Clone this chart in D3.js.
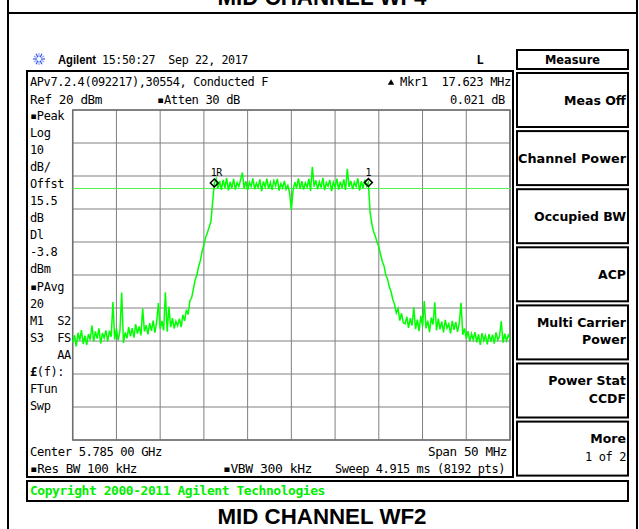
<!DOCTYPE html>
<html lang="en">
<head>
<meta charset="UTF-8">
<title>MID CHANNEL WF2</title>
<style>
  body, html { margin: 0; padding: 0; background: #fff; overflow: hidden; }
  svg text { font-family: "DejaVu Sans Mono", monospace; font-size: 12px; fill: #000; letter-spacing: -0.4px; }
  svg text.sans { font-family: "Liberation Sans", Arial, sans-serif; letter-spacing: 0; }
  svg text.key { font-family: "DejaVu Sans", sans-serif; font-weight: bold; font-size: 12.5px; letter-spacing: 0; }
</style>
</head>
<body>
<svg id="chart" width="639" height="529"></svg>
<script src="https://cdnjs.cloudflare.com/ajax/libs/d3/7.8.5/d3.min.js"></script>
<script>
// analyzer settings (offsets from 5.785 GHz centre, MHz)
const startOffset = -25, stopOffset = 25;
const freqGrid = [-25, -20, -15, -10, -5, 0, 5, 10, 15, 20, 25];
const levelGrid = [20, 10, 0, -10, -20, -30, -40, -50, -60, -70, -80];
const displayLine = -3.8;

// trace, dBm, evenly spaced across the span
const traceDbm = [
  -50.5, -48.2, -51.6, -47.5, -49.8, -46.7, -50.9, -48.4, -51.2, -47.9,
  -49.6, -45.3, -50.2, -47.1, -49.3, -46.2, -50.8, -47.6, -49.1, -46.8,
  -50.1, -46.9, -48.7, -38.2, -49.5, -46.3, -49.8, -47.0, -35.3, -50.6,
  -47.4, -49.2, -45.8, -48.6, -46.1, -49.0, -44.9, -47.8, -45.6, -48.3,
  -40.2, -47.1, -45.2, -48.0, -44.6, -46.9, -43.8, -47.5, -44.2, -38.5,
  -46.3, -43.9, -46.8, -35.2, -47.2, -39.6, -45.8, -43.1, -46.2, -44.0,
  -45.4, -43.2, -45.8, -42.1, -43.9, -40.5, -42.0, -37.8, -36.9, -34.2,
  -31.5, -30.0, -27.4, -25.6, -22.8, -21.0, -18.6, -17.2, -15.5, -13.8,
  -8.0, -2.1, -0.8, -3.9, -1.5, -4.2, -1.2, -3.6, -0.6, -4.4,
  -1.8, -3.7, -0.9, -4.1, -2.0, -3.2, -1.1, 1.0, -3.8, -1.6,
  -4.3, -1.9, -3.1, -0.7, -4.0, -2.2, -3.5, -1.0, -4.6, -1.7,
  -3.3, -0.8, -3.9, -2.0, -4.2, -1.4, -3.0, -0.9, -4.4, -2.3,
  -3.6, -1.5, -4.0, -2.8, -5.1, -10.3, -4.3, -1.9, -3.7, -0.7,
  -3.9, -1.6, -4.1, -2.1, -3.4, -0.9, -4.5, 2.8, -3.2, -1.3,
  -4.0, -1.8, -3.5, -0.6, -4.3, -2.0, -3.1, -1.2, -4.6, -1.9,
  -3.4, -0.8, -4.1, -1.7, -3.6, -1.0, -4.2, 2.2, -3.3, -1.5,
  -4.0, -1.9, -3.2, -0.7, -4.4, -1.6, -3.7, -1.1, -3.0, -2.0,
  -10.8, -14.5, -16.8, -18.2, -20.1, -21.4, -23.8, -25.9, -27.3, -30.1,
  -31.2, -33.6, -35.0, -37.4, -38.9, -41.5, -40.2, -43.8, -41.6, -44.5,
  -44.8, -42.6, -46.0, -43.1, -45.3, -39.8, -46.4, -43.5, -47.0, -42.4,
  -45.6, -37.9, -46.2, -43.8, -47.3, -42.9, -45.0, -38.3, -46.8, -43.2,
  -46.5, -44.1, -47.4, -43.6, -46.1, -44.8, -47.7, -43.9, -46.6, -44.3,
  -47.2, -44.6, -38.4, -48.1, -46.2, -49.3, -47.0, -50.1, -47.8, -49.6,
  -47.3, -50.4, -48.0, -51.2, -47.6, -49.9, -48.3, -51.0, -47.9, -50.2,
  -48.1, -50.8, -47.4, -49.7, -48.6, -44.0, -50.5, -47.8, -49.9, -48.2, -49.4
];

const markerNames = ["1R", "1"];
const markerOffsets = [-8.81, 8.81];
const markerLevels = [-2.1, -2.0];

const sideLabels = ["\u25AAPeak", "Log", "10", "dB/", "Offst", "15.5", "dB", "Dl", "-3.8", "dBm",
  "\u25AAPAvg", "20", "M1\u00A0\u00A0S2", "S3\u00A0\u00A0FS", "\u00A0\u00A0\u00A0\u00A0AA", "(f):", "FTun", "Swp"];

const softKeys = [["Meas Off"], ["Channel Power"], ["Occupied BW"], ["ACP"],
  ["Multi Carrier", "Power"], ["Power Stat", "CCDF"], ["More", "1 of 2"]];

const svg = d3.select("#chart");

function txt(x, y, s, o = {}) {
  const t = svg.append("text").attr("x", x).attr("y", y).text(s);
  if (o.anchor) t.attr("text-anchor", o.anchor);
  if (o.cls) t.attr("class", o.cls);
  if (o.w) t.attr("textLength", o.w).attr("lengthAdjust", "spacingAndGlyphs");
  if (o.fill) t.style("fill", o.fill);
  if (o.weight) t.style("font-weight", o.weight);
  if (o.size) t.style("font-size", o.size + "px");
  return t;
}

function box(x0, y0, x1, y1) {
  svg.append("rect").attr("x", x0).attr("y", y0)
    .attr("width", x1 - x0).attr("height", y1 - y0)
    .attr("fill", "none").attr("stroke", "#000").attr("stroke-width", 2);
}

// page frame + titles
box(8, -4, 637, 535);
svg.append("line").attr("x1", 8).attr("x2", 637).attr("y1", 13).attr("y2", 13)
  .attr("stroke", "#000").attr("stroke-width", 2);
txt(322, 5, "MID CHANNEL WF4", { cls: "sans", anchor: "middle", weight: "bold", size: 23, w: 209 });
txt(322, 524, "MID CHANNEL WF2", { cls: "sans", anchor: "middle", weight: "bold", size: 22, w: 209 });

// header line
const logo = svg.append("g").attr("transform", "translate(39,59)");
d3.range(12).forEach(k => {
  const a = k * Math.PI / 6;
  logo.append("line")
    .attr("x1", Math.cos(a) * 2).attr("y1", Math.sin(a) * 2)
    .attr("x2", Math.cos(a) * 6).attr("y2", Math.sin(a) * 6)
    .attr("stroke", k % 2 ? "#8fa6ff" : "#2f52e0").attr("stroke-width", 1.2);
});
txt(58, 64, "Agilent", { cls: "sans", weight: "bold", size: 12, w: 38 });
txt(102, 64, "15:50:27\u00A0\u00A0Sep 22, 2017", { w: 146 });
txt(480, 64, "L", { anchor: "middle", weight: "bold" });

// instrument screen
box(27, 71, 513, 477);
txt(30, 86, "APv7.2.4(092217),30554, Conducted F", { w: 238 });
txt(30, 104, "Ref 20 dBm", { w: 72 });
txt(157, 104, "\u25AAAtten 30 dB", { w: 83 });
svg.append("path").attr("d", d3.symbol(d3.symbolTriangle, 18)())
  .attr("transform", "translate(391,83)").attr("fill", "#000");
txt(511, 86, "Mkr1\u00A0\u00A017.623 MHz", { anchor: "end", w: 111 });
txt(505, 104, "0.021 dB", { anchor: "end", w: 55 });

sideLabels.forEach((s, i) => {
  const t = txt(30, 119.5 + i * 17.1, s);
  if (s === "(f):") t.text(null).call(tt => {
    tt.append("tspan").style("font-weight", "bold").text("\u00A3");
    tt.append("tspan").text("(f):");
  });
});

txt(30, 456, "Center 5.785 00 GHz", { w: 132 });
txt(507, 456, "Span 50 MHz", { anchor: "end", w: 79 });
txt(30, 473, "\u25AARes BW 100 kHz", { w: 107 });
txt(223, 473, "\u25AAVBW 300 kHz", { w: 89 });
txt(505, 473, "Sweep 4.915 ms (8192 pts)", { anchor: "end", w: 170 });

// status bar
box(27, 481, 628, 501);
txt(30, 495, "Copyright 2000-2011 Agilent Technologies", { weight: "bold", fill: "#00ee00", w: 295 });

// scales
const x = d3.scaleLinear().domain([startOffset, stopOffset]).range([72.7, 510]);
const y = d3.scaleLinear().domain([levelGrid[0], levelGrid[levelGrid.length - 1]]).range([110, 440]);

const grid = svg.append("g");
grid.selectAll("line.v").data(freqGrid).join("line").attr("class", "v")
  .attr("x1", d => x(d)).attr("x2", d => x(d)).attr("y1", y.range()[0]).attr("y2", y.range()[1])
  .attr("stroke", "#808080").attr("stroke-width", 1);
grid.selectAll("line.h").data(levelGrid).join("line").attr("class", "h")
  .attr("x1", x.range()[0]).attr("x2", x.range()[1]).attr("y1", d => y(d)).attr("y2", d => y(d))
  .attr("stroke", "#808080").attr("stroke-width", 1);
grid.append("rect").attr("x", x.range()[0]).attr("y", y.range()[0])
  .attr("width", x.range()[1] - x.range()[0]).attr("height", y.range()[1] - y.range()[0])
  .attr("fill", "none").attr("stroke", "#6e6e6e").attr("stroke-width", 1.5);

// display line
svg.append("line").attr("x1", x.range()[0]).attr("x2", x.range()[1] + 1)
  .attr("y1", y(displayLine)).attr("y2", y(displayLine))
  .attr("stroke", "#55f055").attr("stroke-width", 1);

// trace
const step = (stopOffset - startOffset) / (traceDbm.length - 1);
const line = d3.line().x((d, i) => x(startOffset + i * step)).y(d => y(d));
svg.append("path").datum(traceDbm).attr("d", line)
  .attr("fill", "none").attr("stroke", "#00ff00").attr("stroke-width", 1.5)
  .attr("stroke-linejoin", "miter");

// markers
markerOffsets.forEach((f, i) => {
  svg.append("path").attr("d", d3.symbol(d3.symbolDiamond2, 40)())
    .attr("transform", `translate(${x(f)},${y(markerLevels[i])})`)
    .attr("fill", "none").attr("stroke", "#000").attr("stroke-width", 1.5);
  txt(x(f) + (i === 0 ? 2 : 0), y(markerLevels[i]) - 7, markerNames[i], { anchor: "middle", size: 10 });
});

// soft keys
box(517, 50, 628, 69);
txt(572.5, 64, "Measure", { cls: "key", anchor: "middle", w: 55 });
softKeys.forEach((k, i) => {
  const top = 73 + i * 58.1;
  box(517, top, 628, top + 54);
  if (k.length === 1) {
    txt(626, top + 32, k[0], { cls: "key", anchor: "end", w: k[0] === "Channel Power" ? 108 : null });
  } else {
    txt(626, top + 21.5, k[0], { cls: "key", anchor: "end" });
    const t = txt(626, top + 39, k[1], { cls: "key", anchor: "end" });
    if (k[0] === "More") t.attr("class", null);
  }
});
</script>
</body>
</html>
